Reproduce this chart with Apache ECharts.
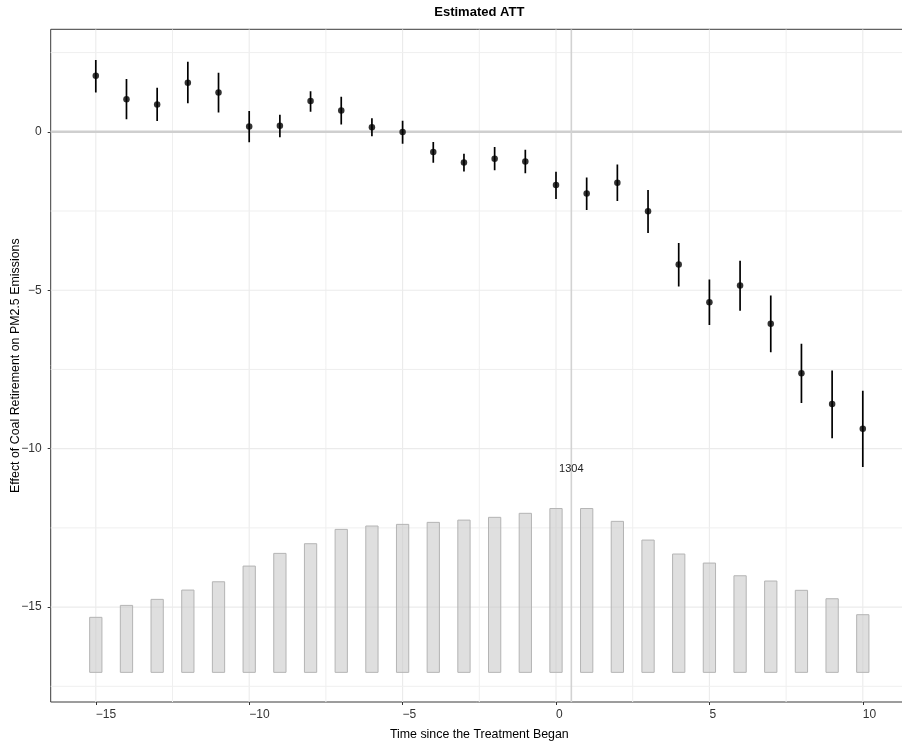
<!DOCTYPE html>
<html>
<head>
<meta charset="utf-8">
<title>Estimated ATT</title>
<script src="https://cdn.jsdelivr.net/npm/echarts@6/dist/echarts.min.js"></script>
<style>
  html, body { margin: 0; padding: 0; background: #ffffff; }
  #chart { width: 902px; height: 745px; }
</style>
</head>
<body>
<div id="chart"></div>
<script>
// Event time relative to treatment onset
const periods = [-15, -14, -13, -12, -11, -10, -9, -8, -7, -6, -5, -4, -3, -2, -1, 0, 1, 2, 3, 4, 5, 6, 7, 8, 9, 10];

// Point estimates of the ATT and their 95% confidence bounds
const att = [1.77, 1.03, 0.86, 1.55, 1.24, 0.17, 0.19, 0.97, 0.67, 0.14, -0.01, -0.64,
             -0.97, -0.85, -0.94, -1.68, -1.95, -1.61, -2.51, -4.19, -5.38, -4.85, -6.06, -7.62, -8.59, -9.37];
const ciLower = [1.24, 0.40, 0.34, 0.90, 0.61, -0.33, -0.17, 0.63, 0.23, -0.14, -0.38, -0.98,
                 -1.25, -1.21, -1.31, -2.12, -2.47, -2.18, -3.19, -4.88, -6.10, -5.65, -6.96, -8.56, -9.67, -10.58];
const ciUpper = [2.27, 1.67, 1.39, 2.21, 1.86, 0.66, 0.54, 1.28, 1.11, 0.43, 0.35, -0.32,
                 -0.69, -0.48, -0.57, -1.26, -1.44, -1.03, -1.84, -3.51, -4.66, -4.07, -5.17, -6.69, -7.53, -8.17];

// Number of treated observations at each event time
const counts = [438, 533, 581, 655, 721, 846, 947, 1024, 1138, 1165, 1178, 1194,
                1212, 1234, 1266, 1304, 1304, 1202, 1053, 942, 870, 769, 727, 653, 586, 459];

// Axis ticks and grid lines
const xTicks = [-15, -10, -5, 0, 5, 10];
const xMinorGrid = [-12.5, -7.5, -2.5, 2.5, 7.5];
const yTicks = [0, -5, -10, -15];
const yMinorGrid = [2.5, -2.5, -7.5, -12.5, -17.5];

// Reference lines: zero effect and treatment onset
const zeroLine = 0;
const onsetLine = 0.5;

// ---- layout ----
const X_MIN = -16.47, X_MAX = 11.47;
const Y_MIN = -17.995, Y_MAX = 3.235;
const COUNT_MIN = -236, COUNT_MAX = 5119;   // hidden axis for the count histogram
const GRID = { left: 50.7, top: 29.3, width: 857.2, height: 672.7 };
const BAR_HALF = 0.2;
const FONT = "'Liberation Sans', Arial, Helvetica, sans-serif";

const minus = v => String(v).replace('-', '\u2212');

const chart = echarts.init(document.getElementById('chart'), null, { renderer: 'canvas' });

function vGridItem(color, width) {
  return function (params, api) {
    const cs = params.coordSys;
    const x = api.coord([api.value(0), 0])[0];
    return { type: 'line', shape: { x1: x, y1: cs.y, x2: x, y2: cs.y + cs.height },
             style: { stroke: color, lineWidth: width }, silent: true };
  };
}
function hGridItem(color, width) {
  return function (params, api) {
    const cs = params.coordSys;
    const y = api.coord([0, api.value(1)])[1];
    return { type: 'line', shape: { x1: cs.x, y1: y, x2: cs.x + cs.width, y2: y },
             style: { stroke: color, lineWidth: width }, silent: true };
  };
}

const maxCount = Math.max(...counts);
const maxPeriods = periods.filter((p, i) => counts[i] === maxCount);
const maxLabelX = maxPeriods.reduce((a, b) => a + b, 0) / maxPeriods.length;

const option = {
  animation: false,
  backgroundColor: '#ffffff',
  textStyle: { fontFamily: FONT },
  grid: Object.assign({ show: true, borderColor: '#3a3a3a', borderWidth: 1, backgroundColor: 'transparent',
                        containLabel: false, outerBoundsMode: 'none' }, GRID),
  xAxis: {
    type: 'value', min: X_MIN, max: X_MAX,
    name: 'Time since the Treatment Began', nameLocation: 'middle', nameGap: 27,
    nameMoveOverlap: false,
    nameTextStyle: { fontSize: 12.4, color: '#000', fontFamily: FONT },
    axisLine: { show: false, onZero: false },
    axisTick: { show: true, customValues: xTicks, length: 3, lineStyle: { color: '#333' } },
    axisLabel: { customValues: xTicks, formatter: minus, align: 'left', margin: 7,
                 fontSize: 12, color: '#333', fontFamily: FONT },
    splitLine: { show: false }
  },
  yAxis: [{
    type: 'value', min: Y_MIN, max: Y_MAX,
    name: 'Effect of Coal Retirement on PM2.5 Emissions', nameLocation: 'middle', nameGap: 29,
    nameRotate: 90, nameMoveOverlap: false,
    nameTextStyle: { fontSize: 12.4, color: '#000', fontFamily: FONT },
    axisLine: { show: false, onZero: false },
    axisTick: { show: true, customValues: yTicks, length: 3, lineStyle: { color: '#333' } },
    axisLabel: { customValues: yTicks, formatter: minus, margin: 9,
                 fontSize: 12, color: '#333', fontFamily: FONT },
    splitLine: { show: false }
  }, {
    type: 'value', min: COUNT_MIN, max: COUNT_MAX, show: false,
    axisLine: { onZero: false },
    splitLine: { show: false }
  }],
  graphic: [{
    type: 'text',
    x: GRID.left + GRID.width / 2, y: 12,
    style: { text: 'Estimated ATT', textAlign: 'center', textVerticalAlign: 'middle',
             font: "bold 13px " + FONT, fill: '#000' }
  }],
  series: [
    { // minor vertical grid
      type: 'custom', z: 1, silent: true, clip: true,
      renderItem: vGridItem('#efefef', 1),
      data: xMinorGrid.map(v => [v, 0])
    },
    { // major vertical grid
      type: 'custom', z: 1, silent: true, clip: true,
      renderItem: vGridItem('#ebebeb', 1.1),
      data: xTicks.map(v => [v, 0])
    },
    { // minor horizontal grid
      type: 'custom', z: 1, silent: true, clip: true,
      renderItem: hGridItem('#efefef', 1),
      data: yMinorGrid.map(v => [0, v])
    },
    { // major horizontal grid
      type: 'custom', z: 1, silent: true, clip: true,
      renderItem: hGridItem('#ebebeb', 1.1),
      data: yTicks.map(v => [0, v])
    },
    { // zero-effect line
      type: 'custom', z: 2, silent: true, clip: true,
      renderItem: hGridItem('#cfcfcf', 2.6),
      data: [[0, zeroLine]]
    },
    { // treatment onset line
      type: 'custom', z: 2, silent: true, clip: true,
      renderItem: vGridItem('#d2d2d2', 1.6),
      data: [[onsetLine, 0]]
    },
    { // count histogram
      type: 'custom', z: 3, yAxisIndex: 1, clip: true,
      renderItem: function (params, api) {
        const t = api.value(0), c = api.value(1);
        const p0 = api.coord([t - BAR_HALF, 0]);
        const p1 = api.coord([t + BAR_HALF, c]);
        return { type: 'rect',
                 shape: { x: p0[0], y: p1[1], width: p1[0] - p0[0], height: p0[1] - p1[1] },
                 style: { fill: 'rgba(200,200,200,0.58)', stroke: '#b4b4b4', lineWidth: 1 } };
      },
      data: periods.map((t, i) => [t, counts[i]])
    },
    { // label for the largest count
      type: 'custom', z: 4, yAxisIndex: 1,
      renderItem: function (params, api) {
        const p = api.coord([api.value(0), api.value(1)]);
        return { type: 'text', x: p[0], y: p[1] - 40,
                 style: { text: String(api.value(1)), textAlign: 'center', textVerticalAlign: 'middle',
                          font: '11px ' + FONT, fill: '#222' } };
      },
      data: [[maxLabelX, maxCount]]
    },
    { // confidence intervals
      type: 'custom', z: 5, clip: true,
      renderItem: function (params, api) {
        const lo = api.coord([api.value(0), api.value(1)]);
        const hi = api.coord([api.value(0), api.value(2)]);
        return { type: 'line', shape: { x1: lo[0], y1: lo[1], x2: hi[0], y2: hi[1] },
                 style: { stroke: '#000', lineWidth: 1.7 } };
      },
      encode: { x: 0, y: [1, 2] },
      data: periods.map((t, i) => [t, ciLower[i], ciUpper[i]])
    },
    { // point estimates
      type: 'scatter', z: 6, symbol: 'circle', symbolSize: 6.5,
      itemStyle: { color: '#000' },
      data: periods.map((t, i) => [t, att[i]])
    }
  ]
};

chart.setOption(option);
</script>
</body>
</html>
